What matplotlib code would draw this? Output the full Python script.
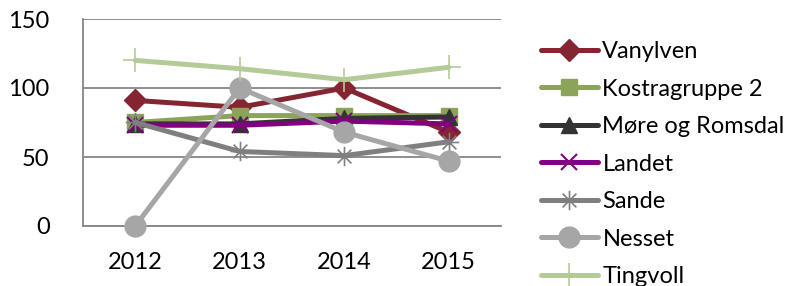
import matplotlib
matplotlib.use("Agg")
import matplotlib.pyplot as plt
from matplotlib.path import Path
import numpy as np

plt.rcParams['font.family'] = ['Lato', 'DejaVu Sans']

years = ["2012", "2013", "2014", "2015"]
vanylven = [91, 86, 100, 68]
kostragruppe2 = [75, 80, 80, 80]
more_romsdal = [74, 74, 78, 79]
landet = [73, 73, 76, 74]
sande = [75, 54, 51, 61]
nesset = [0, 100, 68, 47]
tingvoll = [120, 114, 106, 115]
yticks = [0, 50, 100, 150]

# asterisk marker
ast = []
codes = []
for ang in [0, 45, 90, 135]:
    a = np.deg2rad(ang)
    ast += [(-np.cos(a), -np.sin(a)), (np.cos(a), np.sin(a))]
    codes += [Path.MOVETO, Path.LINETO]
asterisk = Path(ast, codes)

series = [
    ("Vanylven", vanylven, "#862532", "D", 11, dict()),
    ("Kostragruppe 2", kostragruppe2, "#8BA45A", "s", 12, dict()),
    ("Møre og Romsdal", more_romsdal, "#333333", "^", 12, dict()),
    ("Landet", landet, "#800080", "x", 12, dict(markeredgewidth=1.5)),
    ("Sande", sande, "#7F7F7F", asterisk, 14, dict(markeredgewidth=1.2)),
    ("Nesset", nesset, "#A6A6A6", "o", 15, dict()),
    ("Tingvoll", tingvoll, "#B4CB98", "+", 17, dict(markeredgewidth=1.2)),
]

fig = plt.figure(figsize=(8.05, 2.86), dpi=100)
ax = fig.add_axes([83/805, 1-226/286, (501-83)/805, (226-19)/286])
x = np.arange(len(years))
for i, (name, vals, col, mk, ms, kw) in enumerate(series):
    ax.plot(x, vals, color=col, lw=3.6, marker=mk, markersize=ms,
            markerfacecolor=col, markeredgecolor=col, label=name,
            zorder=3+i, solid_capstyle='round', clip_on=False, **kw)

ax.set_xlim(-0.5, 3.5)
ax.set_ylim(0, 150)
ax.set_yticks(yticks)
ax.set_xticks(x)
ax.set_xticklabels(years)
ax.tick_params(axis='both', length=0, labelsize=17, colors='black')
ax.tick_params(axis='y', pad=24)
ax.tick_params(axis='x', pad=19)
ax.grid(axis='y', color='#868686', lw=1.3)
ax.set_axisbelow(True)
for s in ['top', 'right']:
    ax.spines[s].set_visible(False)
for s in ['left', 'bottom']:
    ax.spines[s].set_color('#868686')
    ax.spines[s].set_linewidth(1.3)

fig.legend(loc='upper left', bbox_to_anchor=(541/805, 1-41/286),
           frameon=False, fontsize=17, handlelength=2.4, handletextpad=0.2,
           labelspacing=0.70, borderpad=0, borderaxespad=0)

fig.savefig("out.png", dpi=100)
